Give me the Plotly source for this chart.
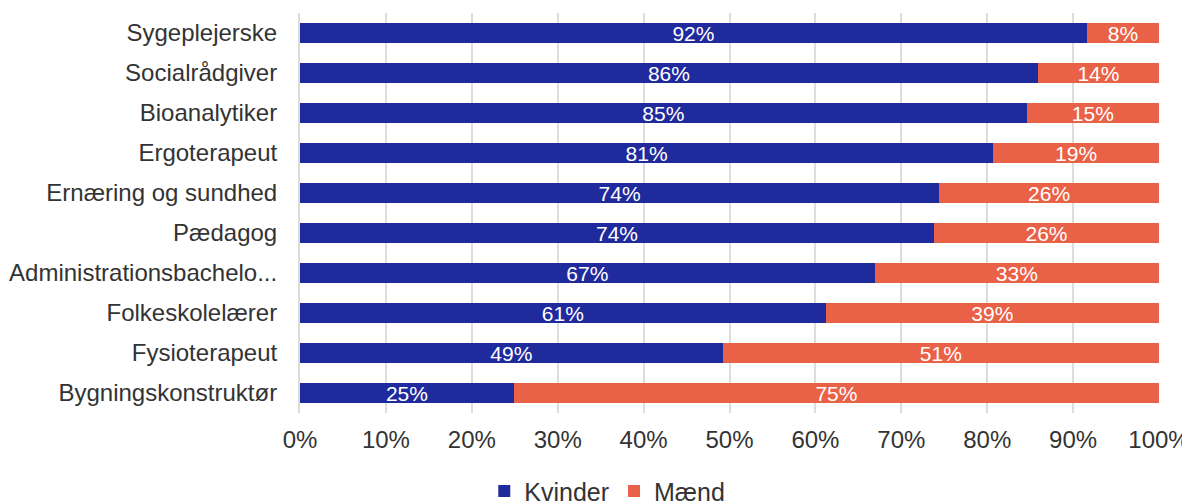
import plotly.graph_objects as go

uddannelser = [
    "Sygeplejerske", "Socialrådgiver", "Bioanalytiker", "Ergoterapeut",
    "Ernæring og sundhed", "Pædagog", "Administrationsbachelo...",
    "Folkeskolelærer", "Fysioterapeut", "Bygningskonstruktør",
]
kvinder = [91.6, 85.9, 84.6, 80.7, 74.4, 73.8, 66.9, 61.2, 49.2, 24.9]
maend = [8.4, 14.1, 15.4, 19.3, 25.6, 26.2, 33.1, 38.8, 50.8, 75.1]

BLAA = "#1f2a9c"
ORANGE = "#e96146"
FONT = "Liberation Sans, Arial, sans-serif"

fig = go.Figure()
for navn, vals, farve in [("Kvinder", kvinder, BLAA), ("Mænd", maend, ORANGE)]:
    fig.add_trace(go.Bar(
        name=navn, y=uddannelser, x=vals, orientation="h",
        marker=dict(color=farve, line=dict(width=0)),
        texttemplate="%{x:.0f}%", textposition="inside",
        insidetextanchor="middle",
        textfont=dict(color="white", size=21, family=FONT),
    ))

# siden har 8 px body-margin, derfor lidt mindre figur
fig.update_layout(
    barmode="stack",
    bargap=0.52,
    width=1182, height=496,
    margin=dict(l=292, r=31, t=5, b=91),
    paper_bgcolor="white", plot_bgcolor="white",
    font=dict(family=FONT, size=24, color="#333333"),
    uniformtext=dict(mode="show", minsize=21),
    xaxis=dict(
        range=[0, 100], dtick=10, ticksuffix="%",
        showgrid=True, gridcolor="#dddddd", gridwidth=2,
        zeroline=False, showline=False, ticks="", automargin=False,
        ticklabelstandoff=10,
        tickfont=dict(size=24, color="#333333"),
    ),
    yaxis=dict(
        autorange="reversed", showline=True, linecolor="#dddddd",
        linewidth=2, ticks="", ticklabelstandoff=16, automargin=False,
        tickfont=dict(size=24, color="#333333"),
    ),
    legend=dict(
        orientation="h", xref="container", x=0.507, xanchor="center",
        yref="container", y=0.072, yanchor="top",
        font=dict(size=25, color="#333333"),
        itemwidth=30, traceorder="normal",
    ),
)

fig.write_html("out.html")
